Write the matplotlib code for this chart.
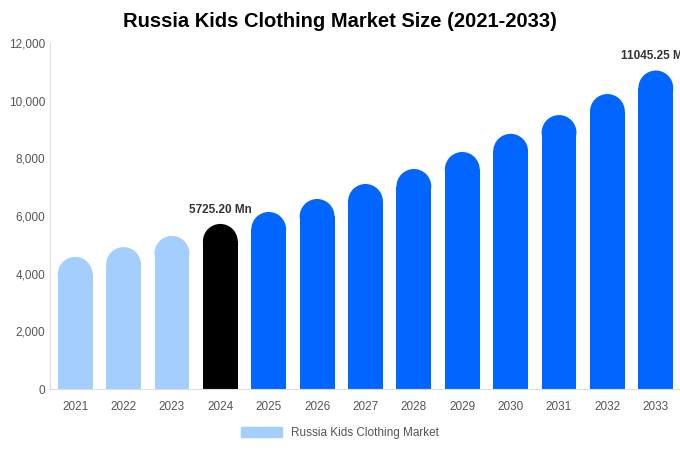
import matplotlib
matplotlib.use("Agg")
import matplotlib.pyplot as plt
from matplotlib.patches import Ellipse, Patch

years = ["2021","2022","2023","2024","2025","2026","2027","2028","2029","2030","2031","2032","2033"]
values = [4580, 4920, 5310, 5725.20, 6140, 6590, 7110, 7630, 8220, 8850, 9500, 10230, 11045.25]
colors = ["#a3cefd"]*3 + ["#000000"] + ["#0066ff"]*9
labels = {3: "5725.20 Mn", 12: "11045.25 Mn"}

plt.rcParams['font.family'] = ['Liberation Sans', 'DejaVu Sans']
fig = plt.figure(figsize=(6.8, 4.5), dpi=100)
ax = fig.add_axes([50/680, 61/450, 630/680, 346/450])
ax.set_xlim(-0.52, 12.5)
ax.set_ylim(0, 12000)
w = 0.72
cap = 17.5 * 12000 / 346
for i, (v, c) in enumerate(zip(values, colors)):
    ax.bar(i, v - cap, width=w, color=c, linewidth=0)
    ax.add_patch(Ellipse((i, v - cap), w, 2*cap, color=c, linewidth=0))
    if i in labels:
        ax.text(i, v + 280, labels[i], ha='center', va='bottom', fontsize=8.5, fontweight='bold', color='#333333', clip_on=False)
ax.set_xticks(range(len(years)))
ax.set_xticklabels(years)
ax.set_yticks(range(0, 12001, 2000))
ax.set_yticklabels([f"{t:,}" for t in range(0, 12001, 2000)])
ax.tick_params(axis='both', labelsize=8.5, colors='#555555', length=0)
ax.tick_params(axis='x', pad=9)
for s in ['top', 'right']:
    ax.spines[s].set_visible(False)
for s in ['left', 'bottom']:
    ax.spines[s].set_color('#dddddd')
fig.text(0.5, 0.953, "Russia Kids Clothing Market Size (2021-2033)", ha='center', va='center', fontsize=14.5, fontweight='bold')
fig.legend(handles=[Patch(color='#a3cefd', label='Russia Kids Clothing Market')], loc='center', bbox_to_anchor=(0.5, 0.038), frameon=False, fontsize=8.5, handlelength=3.5, handleheight=1.0, labelcolor='#555555')
fig.savefig("out.png", dpi=100)
